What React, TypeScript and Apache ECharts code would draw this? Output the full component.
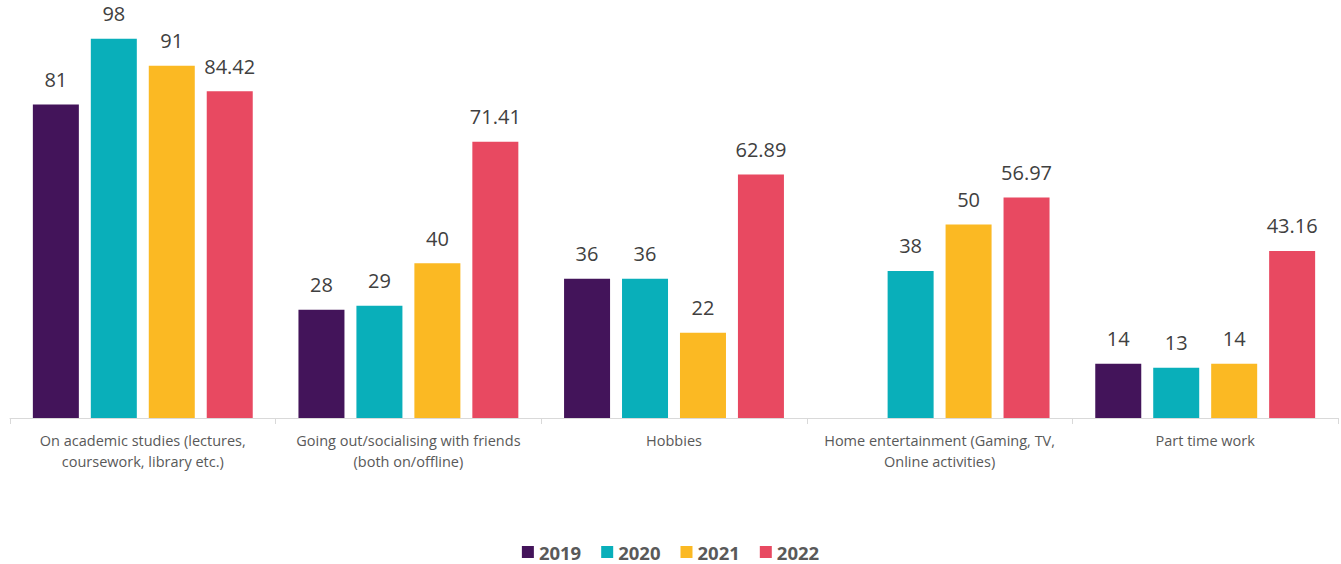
import React, { useEffect, useRef } from "react";
import * as echarts from "echarts";

const categories = [
  "On academic studies (lectures,\ncoursework, library etc.)",
  "Going out/socialising with friends\n(both on/offline)",
  "Hobbies",
  "Home entertainment (Gaming, TV,\nOnline activities)",
  "Part time work",
];
const seriesNames = ["2019", "2020", "2021", "2022"];
const values2019 = [81, 28, 36, null, 14];
const values2020 = [98, 29, 36, 38, 13];
const values2021 = [91, 40, 22, 50, 14];
const values2022 = [84.42, 71.41, 62.89, 56.97, 43.16];
const colors = ["#43145a", "#09afba", "#fbb923", "#e84961"];

export default function App() {
  const ref = useRef<HTMLDivElement>(null);
  useEffect(() => {
    document.body.style.margin = "0";
    const chart = echarts.init(ref.current!, null, { renderer: "svg" });
    const all = [values2019, values2020, values2021, values2022];
    chart.setOption({
      animation: false,
      textStyle: { fontFamily: "Open Sans" },
      grid: { left: 10, right: 3, top: 31, bottom: 146 },
      legend: {
        top: 542,
        left: "center",
        padding: 0,
        itemWidth: 12,
        itemHeight: 12,
        itemGap: 20,
        icon: "rect",
        textStyle: { fontSize: 18.5, lineHeight: 20, fontWeight: "bold", color: "#595959", fontFamily: "Open Sans" },
        data: seriesNames,
      },
      xAxis: {
        type: "category",
        data: categories,
        axisLine: { lineStyle: { color: "#d9d9d9", width: 1 } },
        axisTick: { show: true, length: 6, lineStyle: { color: "#d9d9d9" } },
        axisLabel: { color: "#595959", fontSize: 14.5, lineHeight: 21, margin: 12, interval: 0 },
      },
      yAxis: {
        type: "value",
        min: 0,
        max: 100,
        show: false,
        splitLine: { show: false },
      },
      series: all.map((d, i) => ({
        name: seriesNames[i],
        type: "bar",
        data: d,
        barWidth: 46,
        barGap: "26%",
        itemStyle: { color: colors[i] },
        label: {
          show: true,
          position: "top",
          distance: 15,
          fontSize: 20,
          color: "#404040",
          fontFamily: "Open Sans",
        },
      })),
    });
    return () => chart.dispose();
  }, []);
  return <div ref={ref} style={{ width: 1341, height: 564 }} />;
}
